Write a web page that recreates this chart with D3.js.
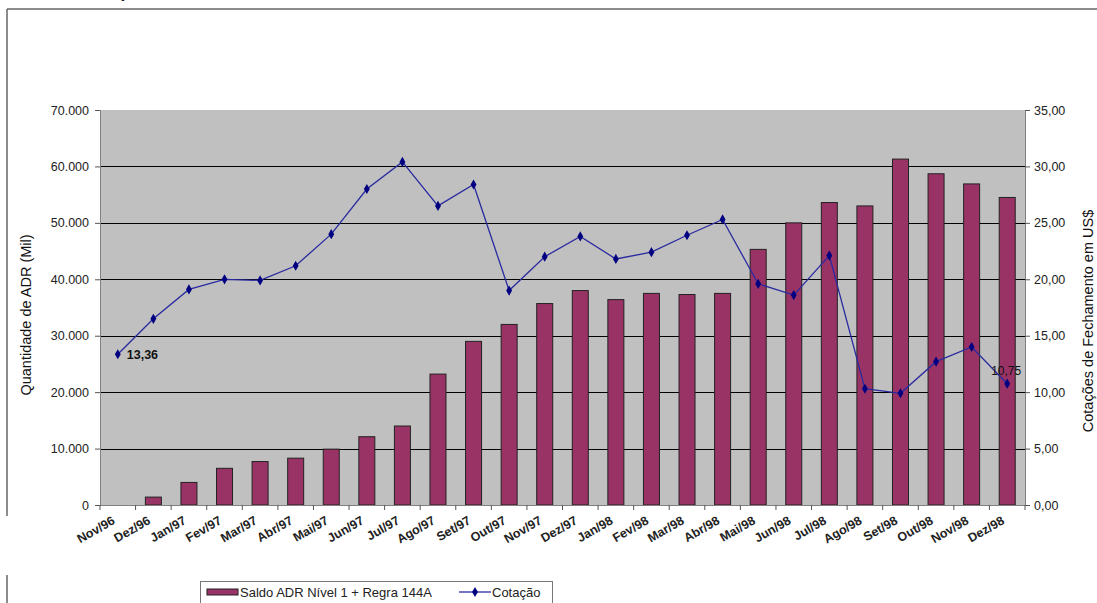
<!DOCTYPE html>
<html>
<head>
<meta charset="utf-8">
<script src="https://cdn.jsdelivr.net/npm/d3@7"></script>
<style>
  html, body { margin: 0; padding: 0; background: #fff; }
  svg { display: block; font-family: "Liberation Sans", Arial, sans-serif; }
</style>
</head>
<body>
<svg id="chart" width="1097" height="603"></svg>
<script>
const months = ["Nov/96","Dez/96","Jan/97","Fev/97","Mar/97","Abr/97","Mai/97","Jun/97","Jul/97","Ago/97","Set/97","Out/97","Nov/97","Dez/97","Jan/98","Fev/98","Mar/98","Abr/98","Mai/98","Jun/98","Jul/98","Ago/98","Set/98","Out/98","Nov/98","Dez/98"];
const saldoADR = [0,1400,4000,6500,7700,8300,9900,12100,14000,23200,29000,32000,35700,38000,36400,37500,37300,37500,45300,50000,53600,53000,61300,58700,56900,54500];
const cotacao = [13.36,16.5,19.1,20.0,19.9,21.2,24.0,28.0,30.4,26.5,28.4,19.0,22.0,23.8,21.8,22.4,23.9,25.3,19.6,18.6,22.1,10.3,9.9,12.7,14.0,10.75];
const leftTicks = [0,10000,20000,30000,40000,50000,60000,70000];
const rightTicks = [0,5,10,15,20,25,30,35];
const seriesNames = ["Saldo ADR Nível 1 + Regra 144A", "Cotação"];
const axisTitles = ["Quantidade de ADR (Mil)", "Cotações de Fechamento em US$"];

const svg = d3.select("#chart");
const L = 100, R = 1025, T = 110, B = 505;

const x = d3.scaleBand().domain(months).range([L, R]).paddingInner(0).paddingOuter(0);
const yL = d3.scaleLinear().domain([0, 70000]).range([B, T]);
const yR = d3.scaleLinear().domain([0, 35]).range([B, T]);

const fmtL = v => v === 0 ? "0" : d3.format(",")(v).replace(/,/g, ".");
const fmtR = v => v.toFixed(2).replace(".", ",");

// frame
svg.append("line").attr("x1", 7).attr("x2", 1097).attr("y1", 9).attr("y2", 9).attr("stroke", "#666").attr("stroke-width", 1.5);
svg.append("line").attr("x1", 7).attr("x2", 7).attr("y1", 9).attr("y2", 516).attr("stroke", "#666").attr("stroke-width", 1.5);
svg.append("line").attr("x1", 7).attr("x2", 7).attr("y1", 575).attr("y2", 603).attr("stroke", "#666").attr("stroke-width", 1.5);
// clipped title fragment (cut off at the top edge in the reference too)
svg.append("text").attr("x", 119).attr("y", -2).attr("font-size", 14).attr("font-weight", "bold").text("ç");

// plot bg
svg.append("rect").attr("x", L).attr("y", T).attr("width", R - L).attr("height", B - T).attr("fill", "#c0c0c0");

// grid
svg.append("g").selectAll("line").data(leftTicks.filter(d => d > 0 && d < 70000)).join("line")
  .attr("x1", L).attr("x2", R).attr("y1", d => Math.round(yL(d)) + 0.5).attr("y2", d => Math.round(yL(d)) + 0.5)
  .attr("stroke", "#000").attr("stroke-width", 1);

// bars
const bw = 16;
svg.append("g").selectAll("rect").data(saldoADR.map((v, i) => ({m: months[i], v}))).join("rect")
  .filter(d => d.v > 0)
  .attr("x", d => x(d.m) + x.bandwidth() / 2 - bw / 2)
  .attr("y", d => yL(d.v))
  .attr("width", bw)
  .attr("height", d => B - yL(d.v))
  .attr("fill", "#993366").attr("stroke", "#222").attr("stroke-width", 1);

// axes
const axL = d3.axisLeft(yL).tickValues(leftTicks).tickFormat(fmtL).tickSize(5).tickPadding(6);
const gL = svg.append("g").attr("transform", `translate(${L},0)`).call(axL);
const axR = d3.axisRight(yR).tickValues(rightTicks).tickFormat(fmtR).tickSize(5).tickPadding(4);
const gR = svg.append("g").attr("transform", `translate(${R},0)`).call(axR);
[gL, gR].forEach(g => {
  g.select(".domain").attr("stroke", "#808080");
  g.selectAll(".tick line").attr("stroke", "#555");
  g.selectAll("text").attr("font-size", 12.5).attr("fill", "#222").attr("font-family", "Liberation Sans, Arial, sans-serif");
});

// x axis
const boundaries = months.map(m => x(m)).concat([R]);
svg.append("line").attr("x1", L).attr("x2", R).attr("y1", B + 0.5).attr("y2", B + 0.5).attr("stroke", "#808080");
svg.append("g").selectAll("line").data(boundaries).join("line")
  .attr("x1", d => d).attr("x2", d => d).attr("y1", B).attr("y2", B + 5).attr("stroke", "#555");
svg.append("g").selectAll("text").data(months).join("text")
  .attr("transform", d => `translate(${x(d) + x.bandwidth() / 2 - 2},${B + 18}) rotate(-30)`)
  .attr("text-anchor", "end").attr("font-size", 12.5).attr("font-weight", "bold").attr("fill", "#222")
  .text(d => d);

// line
const pts = cotacao.map((v, i) => ({m: months[i], v}));
const line = d3.line().x(d => x(d.m) + x.bandwidth() / 2).y(d => yR(d.v));
svg.append("path").datum(pts).attr("d", line).attr("fill", "none").attr("stroke", "#2a2aa0").attr("stroke-width", 1.3);
svg.append("g").selectAll("path").data(pts).join("path")
  .attr("transform", d => `translate(${x(d.m) + x.bandwidth() / 2},${yR(d.v)})`)
  .attr("d", d3.symbol().type(d3.symbolDiamond).size(30))
  .attr("fill", "#000080");

// data labels
const first = pts[0], last = pts[pts.length - 1];
svg.append("text").attr("x", x(first.m) + x.bandwidth() / 2 + 9).attr("y", yR(first.v) + 5)
  .attr("font-size", 12.5).attr("font-weight", "bold").attr("fill", "#111").text(fmtR(first.v));
svg.append("text").attr("x", x(last.m) + x.bandwidth() / 2 - 1).attr("y", yR(last.v) - 9)
  .attr("text-anchor", "middle").attr("font-size", 12).attr("fill", "#111").text(fmtR(last.v));

// axis titles
svg.append("text").attr("transform", `translate(31,315) rotate(-90)`)
  .attr("text-anchor", "middle").attr("font-size", 14.5).attr("fill", "#111").text(axisTitles[0]);
svg.append("text").attr("transform", `translate(1093,321) rotate(-90)`)
  .attr("text-anchor", "middle").attr("font-size", 14.5).attr("fill", "#111").text(axisTitles[1]);

// legend
const lg = svg.append("g");
lg.append("rect").attr("x", 200.5).attr("y", 581.5).attr("width", 352).attr("height", 30).attr("fill", "#fff").attr("stroke", "#777");
lg.append("rect").attr("x", 207).attr("y", 589).attr("width", 31).attr("height", 6).attr("fill", "#993366").attr("stroke", "#222");
lg.append("text").attr("x", 240).attr("y", 597).attr("font-size", 13).attr("fill", "#222").text(seriesNames[0]);
lg.append("line").attr("x1", 459).attr("x2", 491).attr("y1", 592).attr("y2", 592).attr("stroke", "#2a2aa0").attr("stroke-width", 1.3);
lg.append("path").attr("transform", "translate(475,592)").attr("d", d3.symbol().type(d3.symbolDiamond).size(30)).attr("fill", "#000080");
lg.append("text").attr("x", 492).attr("y", 597).attr("font-size", 13).attr("fill", "#222").text(seriesNames[1]);
</script>
</body>
</html>
